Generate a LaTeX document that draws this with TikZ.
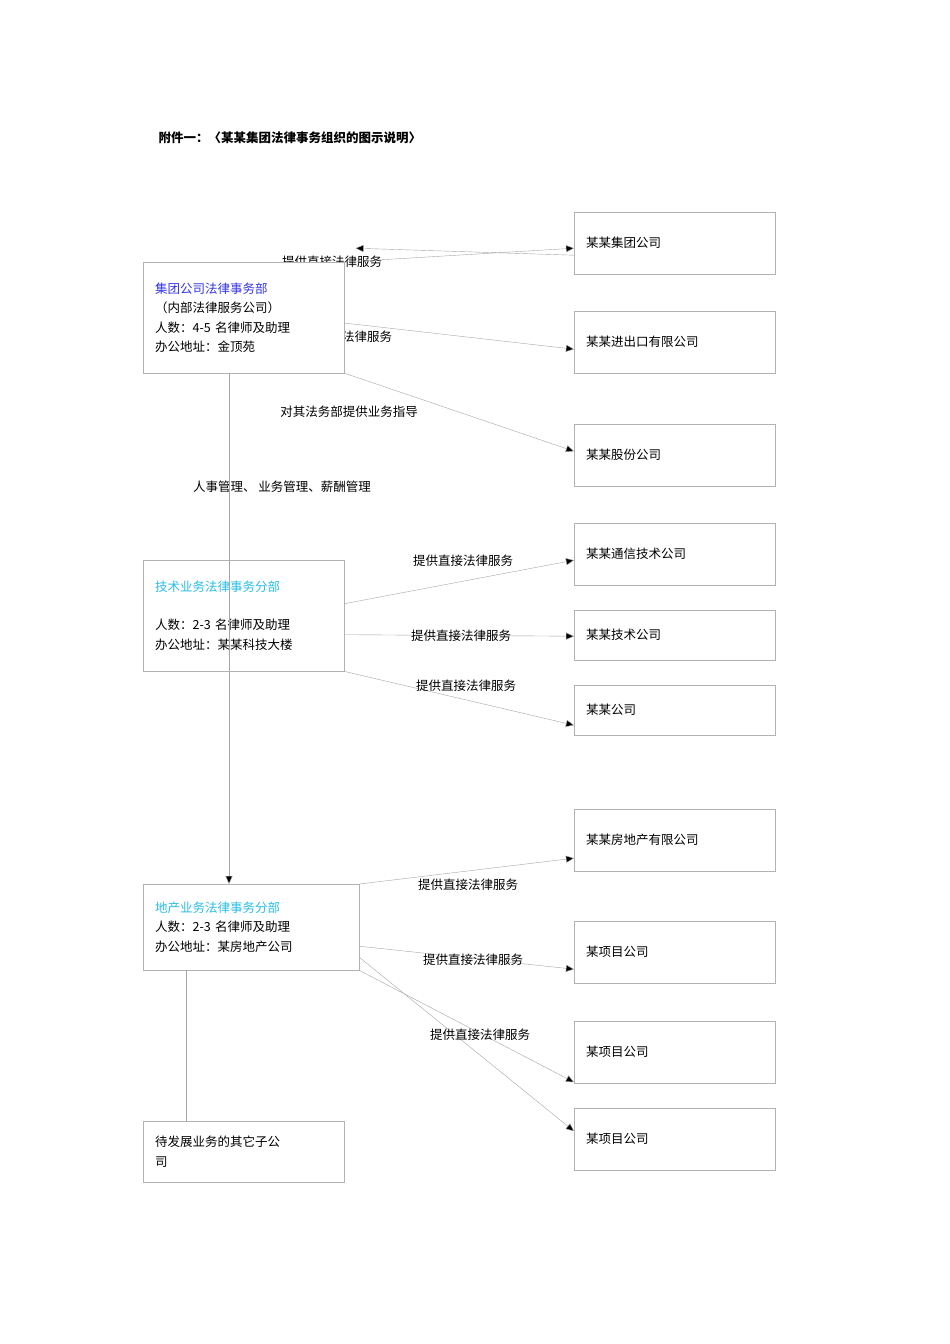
\documentclass[tikz,border=0pt]{standalone}
\usepackage{fontspec}
\setmainfont{Noto Sans CJK SC}
\usetikzlibrary{arrows.meta}
\definecolor{deptblue}{RGB}{51,51,230}
\definecolor{deptcyan}{RGB}{40,190,230}
\tikzset{
  orgbox/.style={draw=gray!60,fill=white,anchor=north west,align=left,inner xsep=12pt,inner ysep=6pt,font=\fontsize{12.5}{19.5}\selectfont},
  firm/.style={orgbox,minimum width=201pt,text width=177pt},
  link/.style={draw=gray!70,-{Triangle[length=8pt,width=7pt,fill=black]}},
  note/.style={font=\fontsize{12.5}{15}\selectfont}
}
\begin{document}
\begin{tikzpicture}[x=1pt,y=-1pt]
  \useasboundingbox[fill=white] (0,0) rectangle (950,1344);

  % -- title --
  \node[anchor=west,font=\fontsize{12.5}{15}\selectfont\bfseries] (title) at (155,138) {附件一：〈某某集团法律事务组织的图示说明〉};

  % -- labels first, boxes paint over them --
  \node[note] (l1) at (332,262) {提供直接法律服务};
  \node[note] (l2) at (342,337) {提供直接法律服务};
  \node[note] (l3) at (349,412) {对其法务部提供业务指导};
  \node[note] (l4) at (282,487) {人事管理、 业务管理、薪酬管理};

  % -- companies on the right --
  \node[firm,minimum height=62pt] (r1) at (574,212) {某某集团公司};
  \node[firm,minimum height=62pt] (r2) at (574,311) {某某进出口有限公司};
  \node[firm,minimum height=62pt] (r3) at (574,424) {某某股份公司};
  \node[firm,minimum height=62pt] (r4) at (574,523) {某某通信技术公司};
  \node[firm,minimum height=50pt] (r5) at (574,610) {某某技术公司};
  \node[firm,minimum height=50pt] (r6) at (574,685) {某某公司};
  \node[firm,minimum height=62pt] (r7) at (574,809) {某某房地产有限公司};
  \node[firm,minimum height=62pt] (r8) at (574,921) {某项目公司};
  \node[firm,minimum height=62pt] (r9) at (574,1021) {某项目公司};
  \node[firm,minimum height=62pt] (r10) at (574,1108) {某项目公司};

  % -- connectors of the group department --
  \draw[link] ([yshift=-12pt]r1.west) -- ([xshift=-30pt,yshift=-5pt]r1.west -| l1.east);
  \path (r1.west) ++(0,0) coordinate (a1);
  \draw[draw=gray!70,{Triangle[length=8pt,width=7pt,fill=black]}-] ([yshift=-5pt]r1.west) -- (344,262);
  \draw[link] (344,323) -- ([yshift=-7pt]r2.west);
  \draw[link] (344,373) -- ([yshift=4pt]r3.west);

  % -- department boxes --
  \node[orgbox,minimum width=201pt,minimum height=111pt,text width=177pt] (grp) at (143,262)
    {\textcolor{deptblue}{集团公司法律事务部}\\（内部法律服务公司）\\人数：4-5 名律师及助理\\办公地址：金顶苑};
  \draw[link] ([xshift=86pt]grp.south west) -- (229,884);
  \node[orgbox,minimum width=201pt,minimum height=111pt,text width=177pt] (tech) at (143,560)
    {\textcolor{deptcyan}{技术业务法律事务分部}\\[19pt]人数：2-3 名律师及助理\\办公地址：某某科技大楼};
  \draw[draw=gray!70] (229,560) -- (229,671);
  \node[orgbox,minimum width=216pt,minimum height=86pt,text width=192pt] (land) at (143,884)
    {\textcolor{deptcyan}{地产业务法律事务分部}\\人数：2-3 名律师及助理\\办公地址：某房地产公司};
  \node[orgbox,minimum width=201pt,minimum height=61pt,text width=177pt] (other) at (143,1121)
    {待发展业务的其它子公\\司};
  \draw[draw=gray!70] ([xshift=43pt]land.south west) -- ([xshift=43pt]other.north west);

  % -- technology branch --
  \draw[link] ([yshift=12pt]tech.east) -- ([yshift=-6pt]r4.west);
  \draw[link] ([yshift=-19pt]tech.east) -- ([yshift=-1pt]r5.west);
  \draw[link] (tech.south east) -- ([yshift=-15pt]r6.west);
  \node[note,fill=white,inner sep=1pt] (l5) at (463,561) {提供直接法律服务};
  \node[note] (l6) at (461,636) {提供直接法律服务};
  \node[note] (l7) at (466,686) {提供直接法律服务};

  % -- real estate branch --
  \draw[link] (land.north east) -- ([yshift=-18pt]r7.west);
  \draw[link] ([yshift=-19pt]land.east) -- ([yshift=-17pt]r8.west);
  \draw[link] (land.south east) -- ([yshift=-30pt]r9.west);
  \draw[link] ([yshift=13pt]land.south east) -- ([yshift=8pt]r10.west);
  \node[note] (l8) at (468,885) {提供直接法律服务};
  \node[note] (l9) at (473,960) {提供直接法律服务};
  \node[note] (l10) at (480,1035) {提供直接法律服务};
\end{tikzpicture}
\end{document}
